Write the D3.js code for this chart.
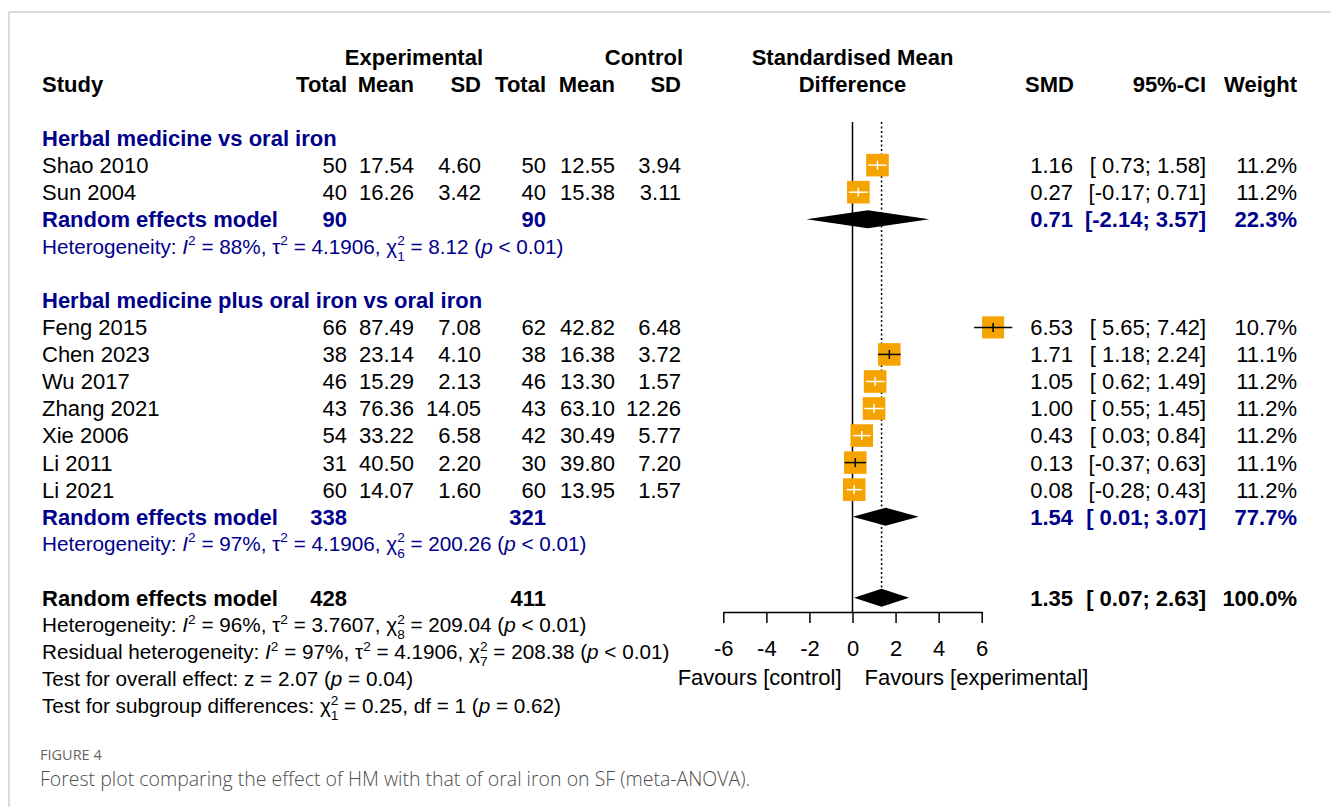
<!DOCTYPE html>
<html>
<head>
<meta charset="utf-8">
<script src="https://cdn.jsdelivr.net/npm/d3@7"></script>
<style>
  body { margin: 0; background: #fff; }
  svg { display: block; font-family: "Liberation Sans", Arial, sans-serif; }
</style>
</head>
<body>
<svg id="chart" width="1331" height="807"></svg>
<script>
// study level data
var studies = ['Shao 2010', 'Sun 2004', 'Feng 2015', 'Chen 2023', 'Wu 2017', 'Zhang 2021', 'Xie 2006', 'Li 2011', 'Li 2021'];
var studyGroup = [0, 0, 1, 1, 1, 1, 1, 1, 1];
var expTotal = [50, 40, 66, 38, 46, 43, 54, 31, 60];
var expMean = [17.54, 16.26, 87.49, 23.14, 15.29, 76.36, 33.22, 40.50, 14.07];
var expSD = [4.60, 3.42, 7.08, 4.10, 2.13, 14.05, 6.58, 2.20, 1.60];
var ctrlTotal = [50, 40, 62, 38, 46, 43, 42, 30, 60];
var ctrlMean = [12.55, 15.38, 42.82, 16.38, 13.30, 63.10, 30.49, 39.80, 13.95];
var ctrlSD = [3.94, 3.11, 6.48, 3.72, 1.57, 12.26, 5.77, 7.20, 1.57];
var smd = [1.16, 0.27, 6.53, 1.71, 1.05, 1.00, 0.43, 0.13, 0.08];
var ciLow = [0.73, -0.17, 5.65, 1.18, 0.62, 0.55, 0.03, -0.37, -0.28];
var ciHigh = [1.58, 0.71, 7.42, 2.24, 1.49, 1.45, 0.84, 0.63, 0.43];
var weight = [11.2, 11.2, 10.7, 11.1, 11.2, 11.2, 11.2, 11.1, 11.2];

// subgroup level data
var groups = ['Herbal medicine vs oral iron', 'Herbal medicine plus oral iron vs oral iron'];
var groupExpTotal = [90, 338];
var groupCtrlTotal = [90, 321];
var groupSMD = [0.71, 1.54];
var groupLow = [-2.14, 0.01];
var groupHigh = [3.57, 3.07];
var groupWeight = [22.3, 77.7];
var groupI2 = [88, 97];
var groupTau2 = ['4.1906', '4.1906'];
var groupChi2 = ['8.12', '200.26'];
var groupDf = [1, 6];

// overall
var overall = {expTotal: 428, ctrlTotal: 411, smd: 1.35, low: 0.07, high: 2.63, weight: 100.0};
var ticks = [-6, -4, -2, 0, 2, 4, 6];

var svg = d3.select('#chart');
var fs = 22, fsSmall = 20.7;
var blue = '#00008B';
// plain hyphen for negatives, like the R output
var f2 = function(v) { return d3.format('.2f')(v).replace('\u2212', '-'); };
var pct = function(v) { return d3.format('.1f')(v) + '%'; };
var ciText = function(lo, hi) {
  return '[' + (lo < 0 ? '' : ' ') + f2(lo) + '; ' + f2(hi) + ']';
};

// card frame
svg.append('line').attr('x1', 9).attr('x2', 1331).attr('y1', 12).attr('y2', 12).attr('stroke', '#cfcfcf').attr('stroke-width', 1.5);
svg.append('line').attr('x1', 9).attr('x2', 9).attr('y1', 12).attr('y2', 807).attr('stroke', '#cfcfcf').attr('stroke-width', 1.5);

// rows
var row = d3.scaleLinear().domain([0, 23]).range([84, 706]);
var x = d3.scaleLinear().domain([-6, 6]).range([723.3, 981.7]);

// build row assignments
var rows = [];
var r = 2;
groups.forEach(function(gname, gi) {
  rows.push({type: 'title', g: gi, r: r++});
  studies.forEach(function(s, i) {
    if (studyGroup[i] === gi) rows.push({type: 'study', i: i, r: r++});
  });
  rows.push({type: 're', g: gi, r: r++});
  rows.push({type: 'het', g: gi, r: r++});
  r++;
});
var overallRow = r;

var cols = {study: 42, eT: 347, eM: 414, eS: 481, cT: 546, cM: 615, cS: 681, smd: 1073, ci: 1206, w: 1297};

function txt(xp, yp, s, opt) {
  opt = opt || {};
  return svg.append('text')
    .attr('x', xp).attr('y', yp)
    .attr('dy', '0.36em')
    .attr('text-anchor', opt.anchor || 'start')
    .attr('font-size', opt.size || fs)
    .attr('font-weight', opt.bold ? 'bold' : null)
    .attr('fill', opt.color || '#000')
    .text(s);
}

// rich text with italics, superscripts and stacked sup/sub
function rich(xp, yp, pieces, color, size) {
  var t = svg.append('text').attr('x', xp).attr('y', yp + size * 0.36)
    .attr('font-size', size).attr('fill', color);
  var cur = 0;
  pieces.forEach(function(p) {
    if (p.ss) {
      var small = size * 0.66;
      var up = -size * 0.42, down = size * 0.33;
      t.append('tspan').attr('dy', up - cur).attr('font-size', small).text(p.ss[0]);
      t.append('tspan').attr('dx', -small * 0.556 * p.ss[0].length).attr('dy', down - up).attr('font-size', small).text(p.ss[1]);
      cur = down;
    } else if (p.sup) {
      var up2 = -size * 0.42;
      t.append('tspan').attr('dy', up2 - cur).attr('font-size', size * 0.66).text(p.sup);
      cur = up2;
    } else {
      t.append('tspan').attr('dy', -cur).attr('font-style', p.it ? 'italic' : null).text(p.t);
      cur = 0;
    }
  });
  return t;
}

// headers
var hy0 = row(-1), hy1 = row(0);
txt(cols.study, hy1, 'Study', {bold: true});
txt(483, hy0, 'Experimental', {bold: true, anchor: 'end'});
txt(683, hy0, 'Control', {bold: true, anchor: 'end'});
[['Total', cols.eT], ['Mean', cols.eM], ['SD', cols.eS], ['Total', cols.cT], ['Mean', cols.cM], ['SD', cols.cS]].forEach(function(h) {
  txt(h[1], hy1, h[0], {bold: true, anchor: 'end'});
});
txt(x(0), hy0, 'Standardised Mean', {bold: true, anchor: 'middle'});
txt(x(0), hy1, 'Difference', {bold: true, anchor: 'middle'});
txt(cols.smd + 1, hy1, 'SMD', {bold: true, anchor: 'end'});
txt(cols.ci, hy1, '95%-CI', {bold: true, anchor: 'end'});
txt(cols.w, hy1, 'Weight', {bold: true, anchor: 'end'});

// reference lines
var lineTop = 122, axisY = 612;
svg.append('line').attr('x1', x(0)).attr('x2', x(0)).attr('y1', lineTop).attr('y2', axisY)
  .attr('stroke', '#000').attr('stroke-width', 1.5);
svg.append('line').attr('x1', x(overall.smd)).attr('x2', x(overall.smd)).attr('y1', lineTop).attr('y2', row(overallRow) - 8)
  .attr('stroke', '#000').attr('stroke-width', 1.5).attr('stroke-dasharray', '2,2.5');

var boxSize = d3.scaleSqrt().domain([0, 11.2]).range([0, 22.6]);

function diamond(yp, lo, est, hi, h) {
  svg.append('path')
    .attr('d', 'M' + x(lo) + ',' + yp + 'L' + x(est) + ',' + (yp - h / 2) + 'L' + x(hi) + ',' + yp + 'L' + x(est) + ',' + (yp + h / 2) + 'Z')
    .attr('fill', '#000');
}

rows.forEach(function(d) {
  var yp = row(d.r);
  if (d.type === 'title') {
    txt(cols.study, yp, groups[d.g], {bold: true, color: blue});
  } else if (d.type === 'study') {
    var i = d.i;
    txt(cols.study, yp, studies[i]);
    txt(cols.eT, yp, expTotal[i], {anchor: 'end'});
    txt(cols.eM, yp, f2(expMean[i]), {anchor: 'end'});
    txt(cols.eS, yp, f2(expSD[i]), {anchor: 'end'});
    txt(cols.cT, yp, ctrlTotal[i], {anchor: 'end'});
    txt(cols.cM, yp, f2(ctrlMean[i]), {anchor: 'end'});
    txt(cols.cS, yp, f2(ctrlSD[i]), {anchor: 'end'});
    txt(cols.smd, yp, f2(smd[i]), {anchor: 'end'});
    txt(cols.ci, yp, ciText(ciLow[i], ciHigh[i]), {anchor: 'end'});
    txt(cols.w, yp, pct(weight[i]), {anchor: 'end'});
    // box and CI
    var s = boxSize(weight[i]);
    var cx = x(smd[i]);
    svg.append('rect').attr('x', cx - s / 2).attr('y', yp - s / 2).attr('width', s).attr('height', s)
      .attr('fill', '#F5A300');
    var inside = x(ciLow[i]) > cx - s / 2 + 1 && x(ciHigh[i]) < cx + s / 2 - 1;
    var col = inside ? '#fff' : '#000';
    svg.append('line').attr('x1', x(ciLow[i])).attr('x2', x(ciHigh[i])).attr('y1', yp).attr('y2', yp)
      .attr('stroke', col).attr('stroke-width', 1.5);
    svg.append('line').attr('x1', cx).attr('x2', cx).attr('y1', yp - 4.5).attr('y2', yp + 4.5)
      .attr('stroke', col).attr('stroke-width', 1.5);
  } else if (d.type === 're') {
    var g = d.g;
    txt(cols.study, yp, 'Random effects model', {bold: true, color: blue});
    txt(cols.eT, yp, groupExpTotal[g], {bold: true, color: blue, anchor: 'end'});
    txt(cols.cT, yp, groupCtrlTotal[g], {bold: true, color: blue, anchor: 'end'});
    txt(cols.smd, yp, f2(groupSMD[g]), {bold: true, color: blue, anchor: 'end'});
    txt(cols.ci, yp, ciText(groupLow[g], groupHigh[g]), {bold: true, color: blue, anchor: 'end'});
    txt(cols.w, yp, pct(groupWeight[g]), {bold: true, color: blue, anchor: 'end'});
    diamond(yp, groupLow[g], groupSMD[g], groupHigh[g], 18);
  } else if (d.type === 'het') {
    var g2 = d.g;
    rich(cols.study, yp, [
      {t: 'Heterogeneity: '}, {t: 'I', it: true}, {sup: '2'},
      {t: ' = ' + groupI2[g2] + '%, \u03c4'}, {sup: '2'},
      {t: ' = ' + groupTau2[g2] + ', \u03c7'}, {ss: ['2', String(groupDf[g2])]},
      {t: ' = ' + groupChi2[g2] + ' ('}, {t: 'p', it: true}, {t: ' < 0.01)'}
    ], blue, fsSmall);
  }
});

// overall
var oy = row(overallRow);
txt(cols.study, oy, 'Random effects model', {bold: true});
txt(cols.eT, oy, overall.expTotal, {bold: true, anchor: 'end'});
txt(cols.cT, oy, overall.ctrlTotal, {bold: true, anchor: 'end'});
txt(cols.smd, oy, f2(overall.smd), {bold: true, anchor: 'end'});
txt(cols.ci, oy, ciText(overall.low, overall.high), {bold: true, anchor: 'end'});
txt(cols.w, oy, pct(overall.weight), {bold: true, anchor: 'end'});
diamond(oy, overall.low, overall.smd, overall.high, 18);

rich(cols.study, row(overallRow + 1), [
  {t: 'Heterogeneity: '}, {t: 'I', it: true}, {sup: '2'}, {t: ' = 96%, \u03c4'}, {sup: '2'},
  {t: ' = 3.7607, \u03c7'}, {ss: ['2', '8']}, {t: ' = 209.04 ('}, {t: 'p', it: true}, {t: ' < 0.01)'}
], '#000', fsSmall);
rich(cols.study, row(overallRow + 2), [
  {t: 'Residual heterogeneity: '}, {t: 'I', it: true}, {sup: '2'}, {t: ' = 97%, \u03c4'}, {sup: '2'},
  {t: ' = 4.1906, \u03c7'}, {ss: ['2', '7']}, {t: ' = 208.38 ('}, {t: 'p', it: true}, {t: ' < 0.01)'}
], '#000', fsSmall);
rich(cols.study, row(overallRow + 3), [
  {t: 'Test for overall effect: z = 2.07 ('}, {t: 'p', it: true}, {t: ' = 0.04)'}
], '#000', fsSmall);
rich(cols.study, row(overallRow + 4), [
  {t: 'Test for subgroup differences: \u03c7'}, {ss: ['2', '1']}, {t: ' = 0.25, df = 1 ('}, {t: 'p', it: true}, {t: ' = 0.62)'}
], '#000', fsSmall);

// x axis
var axis = svg.append('g')
  .attr('transform', 'translate(0,' + axisY + ')')
  .call(d3.axisBottom(x).tickValues(ticks).tickSize(11).tickSizeOuter(0));
axis.select('.domain').attr('stroke-width', 1.5);
axis.selectAll('.tick line').attr('stroke-width', 1.5);
axis.selectAll('.tick text').attr('font-size', fs).attr('font-family', '"Liberation Sans", Arial, sans-serif')
  .attr('y', 0).attr('dy', 0).attr('transform', 'translate(0,36)').attr('dominant-baseline', 'central')
  .text(function(d) { return d < 0 ? '-' + Math.abs(d) : d; });
txt(x(0) - 11, 677, 'Favours [control]', {anchor: 'end'});
txt(x(0) + 12, 677, 'Favours [experimental]');

// caption
svg.append('text').attr('x', 40).attr('y', 760).attr('font-family', '"Open Sans", sans-serif')
  .attr('font-size', 14.5).attr('fill', '#666').text('FIGURE 4');
svg.append('text').attr('x', 40).attr('y', 786).attr('font-family', '"Open Sans", sans-serif')
  .attr('font-size', 19.5).attr('font-weight', 300).attr('fill', '#4d4d4d').text('Forest plot comparing the effect of HM with that of oral iron on SF (meta-ANOVA).');
</script>
</body>
</html>
